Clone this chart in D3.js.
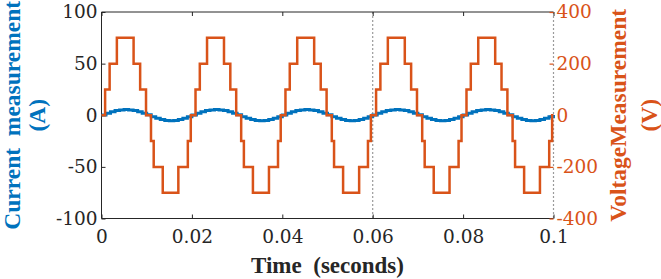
<!DOCTYPE html>
<html>
<head>
<meta charset="utf-8">
<script src="https://cdn.jsdelivr.net/npm/d3@7"></script>
<style>
  html, body { margin: 0; padding: 0; background: #fff; }
  svg { display: block; }
</style>
</head>
<body>
<div id="chart"></div>
<script>
// tick values
const timeTicks = [0, 0.02, 0.04, 0.06, 0.08, 0.1];
const currentTicks = [-100, -50, 0, 50, 100];
const voltageTicks = [-400, -200, 0, 200, 400];
const cursorTimes = [0.06, 0.1];

// voltage: staircase, time (ms) where each level starts
const voltageTimesMs = [
  0, 0.8, 1.8, 3.4, 7.1, 8.55, 9.85, 10.95, 11.55, 13.55, 17.0, 19.1, 19.75,
  20.8, 21.75, 23.35, 27.1, 28.5, 29.8, 30.9, 31.5, 33.5, 37.05, 39.05, 39.65,
  40.7, 41.65, 43.3, 47.05, 48.5, 49.8, 50.95, 51.45, 53.45, 57.0, 58.95, 59.6,
  60.75, 61.7, 63.35, 67.1, 68.5, 69.8, 70.95, 71.5, 73.5, 77.0, 79.0, 79.65,
  80.75, 81.7, 83.35, 87.1, 88.5, 89.8, 90.95, 91.5, 93.5, 97.0, 99.05, 99.7, 100
];
const voltageLevels = [
  0, 100, 200, 300, 200, 100, 0, -100, -200, -300, -200, -100, 0,
  100, 200, 300, 200, 100, 0, -100, -200, -300, -200, -100, 0,
  100, 200, 300, 200, 100, 0, -100, -200, -300, -200, -100, 0,
  100, 200, 300, 200, 100, 0, -100, -200, -300, -200, -100, 0,
  100, 200, 300, 200, 100, 0, -100, -200, -300, -200, -100, 0, 0
];

// current: sampled every 1 ms (held until next sample)
const currentValues = [
  0.3, 2, 3.5, 4.5, 5.2, 5.5, 5.2, 4.5, 3.5, 2, 0.4, -1.5, -3, -4.2, -5, -5.3, -5, -4.2, -3, -1.5,
  0.3, 2, 3.5, 4.5, 5.2, 5.5, 5.2, 4.5, 3.5, 2, 0.4, -1.5, -3, -4.2, -5, -5.3, -5, -4.2, -3, -1.5,
  0.3, 2, 3.5, 4.5, 5.2, 5.5, 5.2, 4.5, 3.5, 2, 0.4, -1.5, -3, -4.2, -5, -5.3, -5, -4.2, -3, -1.5,
  0.3, 2, 3.5, 4.5, 5.2, 5.5, 5.2, 4.5, 3.5, 2, 0.4, -1.5, -3, -4.2, -5, -5.3, -5, -4.2, -3, -1.5,
  0.3, 2, 3.5, 4.5, 5.2, 5.5, 5.2, 4.5, 3.5, 2, 0.4, -1.5, -3, -4.2, -5, -5.3, -5, -4.2, -3, -1.5,
  0.3
];

const blue = "#0072BD";
const orange = "#D95319";
const axisGray = "#262626";
const serif = "'Liberation Serif', 'DejaVu Serif', serif";
const tickSerif = "'DejaVu Serif', serif";

const W = 661, H = 279;
const margin = {top: 12, right: 107.5, bottom: 60.5, left: 101.5};
const width = W - margin.left - margin.right;
const height = H - margin.top - margin.bottom;

const svg = d3.select("#chart").append("svg")
  .attr("width", W)
  .attr("height", H);
const g = svg.append("g").attr("transform", `translate(${margin.left},${margin.top})`);

const x = d3.scaleLinear().domain([0, 0.1]).range([0, width]);
const yCur = d3.scaleLinear().domain([-100, 100]).range([height, 0]);
const yVolt = d3.scaleLinear().domain([-400, 400]).range([height, 0]);

// plain hyphen minus like the original figure
const fmt = d => d === 0 ? "0" : String(d);

// data rows
const voltageData = voltageTimesMs.map((t, i) => ({t: t / 1000, v: voltageLevels[i]}));
const currentData = currentValues.map((v, i) => ({t: i / 1000, v: v}));

// cursor lines
g.selectAll(".cursor")
  .data(cursorTimes)
  .join("line")
  .attr("class", "cursor")
  .attr("x1", d => x(d)).attr("x2", d => x(d))
  .attr("y1", 0).attr("y2", height)
  .attr("stroke", "#9a9a9a")
  .attr("stroke-width", 1.2)
  .attr("stroke-dasharray", "2,2");

// frame: left, top, bottom solid
g.append("path")
  .attr("d", `M${width},0H0V${height}H${width}`)
  .attr("fill", "none")
  .attr("stroke", axisGray)
  .attr("stroke-width", 1);

function styleTicks(sel, color) {
  sel.style("font-family", tickSerif)
    .style("font-size", "18.5px")
    .attr("fill", color);
}

// x axis bottom
const xAxis = g.append("g")
  .attr("transform", `translate(0,${height})`)
  .call(d3.axisBottom(x).tickValues(timeTicks).tickSize(-4).tickSizeOuter(0).tickPadding(11).tickFormat(fmt));
xAxis.attr("font-family", null);
xAxis.select(".domain").remove();
xAxis.selectAll("line").attr("stroke", axisGray);
styleTicks(xAxis.selectAll("text"), axisGray);

// top ticks
g.append("g")
  .call(d3.axisTop(x).tickValues(timeTicks).tickSize(-4).tickSizeOuter(0).tickFormat(""))
  .call(s => s.select(".domain").remove())
  .selectAll("line").attr("stroke", axisGray);

// left axis
const yAxisL = g.append("g")
  .call(d3.axisLeft(yCur).tickValues(currentTicks).tickSize(-4).tickSizeOuter(0).tickPadding(4).tickFormat(fmt));
yAxisL.attr("font-family", null);
yAxisL.select(".domain").remove();
yAxisL.selectAll("line").attr("stroke", axisGray);
styleTicks(yAxisL.selectAll("text"), axisGray);

// right axis
const yAxisR = g.append("g")
  .attr("transform", `translate(${width},0)`)
  .call(d3.axisRight(yVolt).tickValues(voltageTicks).tickSize(-4).tickSizeOuter(0).tickPadding(3).tickFormat(fmt));
yAxisR.attr("font-family", null);
yAxisR.select(".domain").remove();
yAxisR.selectAll("line").attr("stroke", orange).attr("stroke-width", 1.2);
styleTicks(yAxisR.selectAll("text"), orange);

// series
const lineVolt = d3.line().curve(d3.curveStepAfter).x(d => x(d.t)).y(d => yVolt(d.v));
const lineCur = d3.line().curve(d3.curveStepAfter).x(d => x(d.t)).y(d => yCur(d.v));

g.append("path")
  .datum(currentData)
  .attr("d", lineCur)
  .attr("fill", "none")
  .attr("stroke", blue)
  .attr("stroke-width", 3);

g.append("path")
  .datum(voltageData)
  .attr("d", lineVolt)
  .attr("fill", "none")
  .attr("stroke", orange)
  .attr("stroke-width", 2.5);

// axis titles
svg.append("text")
  .attr("x", margin.left + width / 2)
  .attr("y", 273)
  .attr("text-anchor", "middle")
  .style("font-family", serif)
  .style("font-weight", "bold")
  .style("font-size", "23px")
  .style("white-space", "pre")
  .attr("fill", axisGray)
  .text("Time  (seconds)");

const cy = margin.top + height / 2;
const yTitles = [
  {text: "Current  measurement", x: 20, color: blue},
  {text: "(A)", x: 45, color: blue},
  {text: "VoltageMeasurement", x: 626, color: orange},
  {text: "(V)", x: 657, color: orange}
];
svg.selectAll(".ytitle")
  .data(yTitles)
  .join("text")
  .attr("class", "ytitle")
  .attr("transform", d => `translate(${d.x},${cy}) rotate(-90)`)
  .attr("text-anchor", "middle")
  .style("font-family", serif)
  .style("font-weight", "bold")
  .style("font-size", "23.5px")
  .style("white-space", "pre")
  .attr("fill", d => d.color)
  .text(d => d.text);
</script>
</body>
</html>
